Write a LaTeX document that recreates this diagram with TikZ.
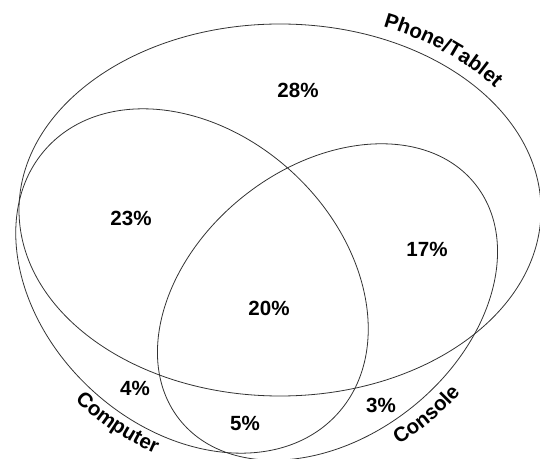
\documentclass[tikz,border=0pt]{standalone}
\usepackage{fontspec}
\setmainfont{Liberation Sans}
\usetikzlibrary{calc,decorations.text}
\newcommand{\venntxt}{\fontsize{15.4}{18}\selectfont\bfseries}
\tikzset{
  setline/.style={draw=black!80,line width=0.6pt},
  pct/.style={font=\venntxt,inner sep=0pt},
  setlabel/.style={decorate,decoration={text along path,text align=center,text={|\venntxt|#1}}}
}

\begin{document}
\begin{tikzpicture}[x=0.75pt,y=0.75pt]
\useasboundingbox (0,0) rectangle (540,-459);

\coordinate (phone) at (280,-210);
\coordinate (comp) at (192,-281);
\coordinate (cons) at (327.5,-302);

% the three sets
\draw[setline] (phone) ellipse [x radius=261,y radius=186];
\path[setlabel=Phone/Tablet] ($(phone)+(77:273 and 198)$) arc [start angle=77,end angle=27,x radius=273,y radius=198];

\begin{scope}[shift={(comp)},rotate=-42.6]
  \draw[setline] (0,0) ellipse [x radius=197,y radius=148];
  \path[setlabel=Computer] (252:216 and 167) arc [start angle=252,end angle=312,x radius=216,y radius=167];
\end{scope}

\begin{scope}[shift={(cons)},rotate=38.6]
  \draw[setline] (0,0) ellipse [x radius=189,y radius=135];
  \path[setlabel=Console] (242:212 and 158) arc [start angle=242,end angle=302,x radius=212,y radius=158];
\end{scope}

% shares
\node[pct] (p28) at (298,-90) {28\%};
\node[pct] (p23) at (131,-218) {23\%};
\node[pct] (p17) at (427,-249) {17\%};
\node[pct] (p20) at (269,-308) {20\%};
\node[pct] (p4) at (135,-388) {4\%};
\node[pct] (p5) at (245,-423) {5\%};
\node[pct] (p3) at (381,-405) {3\%};
\end{tikzpicture}
\end{document}
